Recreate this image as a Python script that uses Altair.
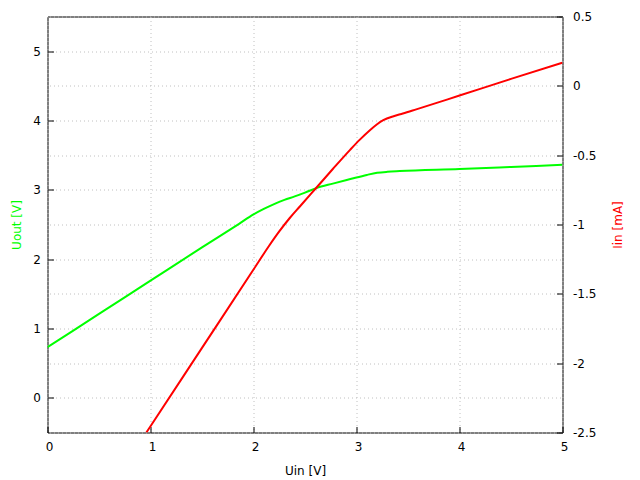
import altair as alt
import pandas as pd

# Uout curve (left axis)
uin_out = [0.0, 0.5, 1.0, 1.5, 1.86, 2.0, 2.1, 2.2, 2.3, 2.4, 2.5, 2.61, 2.77, 2.94, 3.10, 3.20, 3.30, 3.42, 4.0, 4.5, 5.0]
uout = [0.73, 1.21, 1.69, 2.17, 2.51, 2.645, 2.725, 2.795, 2.855, 2.905, 2.96, 3.025, 3.09, 3.155, 3.215, 3.245, 3.26, 3.27, 3.30, 3.33, 3.36]

# Iin curve (right axis)
uin_in = [0.96, 1.0, 1.5, 2.0, 2.15, 2.25, 2.35, 2.45, 2.61, 2.77, 2.94, 3.03, 3.13, 3.20, 3.26, 3.36, 3.45, 3.58, 4.0, 4.5, 5.0]
iin = [-2.50, -2.455, -1.89, -1.325, -1.155, -1.05, -0.955, -0.87, -0.735, -0.60, -0.46, -0.39, -0.32, -0.277, -0.248, -0.219, -0.20, -0.17, -0.07, 0.05, 0.167]

x_ticks = [0, 1, 2, 3, 4, 5]
uout_ticks = [0, 1, 2, 3, 4, 5]
iin_ticks = [-2.5, -2, -1.5, -1, -0.5, 0, 0.5]

df_out = pd.DataFrame({"Uin": uin_out, "Uout": uout})
df_in = pd.DataFrame({"Uin": uin_in, "Iin": iin})

FONT = "DejaVu Sans"
GRID = "#c0c0c0"

common_axis = dict(
    grid=True, gridColor=GRID, gridDash=[1, 3], gridWidth=1,
    domain=False, tickSize=6, offset=-6, tickColor="black", tickWidth=1,
    labelFont=FONT, labelFontSize=12, labelColor="black", labelFlush=False,
    titleFont=FONT, titleFontSize=12, titleFontWeight="normal",
)

x_enc = alt.X(
    "Uin:Q",
    scale=alt.Scale(domain=[0, 5], nice=False, zero=False),
    axis=alt.Axis(title="Uin [V]", values=x_ticks, format="d", labelPadding=9,
                  labelOffset=1.5, titlePadding=13, titleColor="black", **common_axis),
)

green = alt.Chart(df_out).mark_line(color="#00ff00", strokeWidth=2, clip=True,
                                    interpolate="monotone").encode(
    x=x_enc,
    y=alt.Y(
        "Uout:Q",
        scale=alt.Scale(domain=[-0.5, 5.5], nice=False, zero=False),
        axis=alt.Axis(title="Uout [V]", orient="left", values=uout_ticks, format="d",
                      labelPadding=7, titlePadding=9, titleColor="#00ff00", **common_axis),
    ),
)

red = alt.Chart(df_in).mark_line(color="#ff0000", strokeWidth=2, clip=True,
                                 interpolate="monotone").encode(
    x=x_enc,
    y=alt.Y(
        "Iin:Q",
        scale=alt.Scale(domain=[-2.5, 0.5], nice=False, zero=False),
        axis=alt.Axis(title="Iin [mA]", orient="right", values=iin_ticks,
                      labelExpr="toString(datum.value)", labelPadding=10,
                      titlePadding=29, titleAngle=270, titleColor="#ff0000", **common_axis),
    ),
)

chart = (
    alt.layer(green, red)
    .resolve_scale(y="independent")
    .properties(
        width=515, height=416,
        padding={"left": 39.5, "top": 8.5, "right": 65, "bottom": 46},
        autosize=alt.AutoSizeParams(type="none"),
        background="white",
    )
    .configure_view(stroke="black", strokeWidth=1)
)

chart.save("out.html", embed_options={"renderer": "svg", "actions": False})
